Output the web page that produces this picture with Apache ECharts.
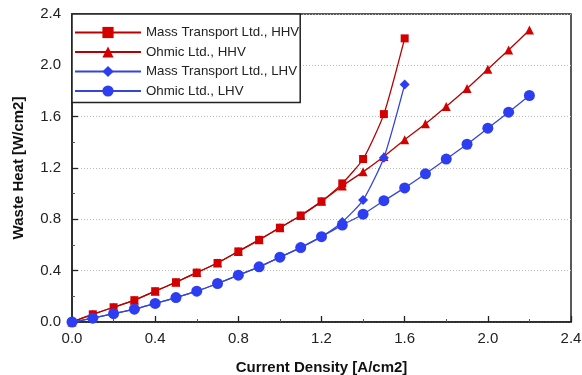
<!DOCTYPE html>
<html><head><meta charset="utf-8">
<script src="https://cdn.jsdelivr.net/npm/echarts@6/dist/echarts.min.js"></script>
<style>html,body{margin:0;padding:0;background:#fff}#c{width:582px;height:375px}</style>
</head><body><div id="c"></div>
<script>
const xMT = [0,0.1,0.2,0.3,0.4,0.5,0.6,0.7,0.8,0.9,1.0,1.1,1.2,1.3,1.4,1.5,1.6];
const xOh = [0,0.1,0.2,0.3,0.4,0.5,0.6,0.7,0.8,0.9,1.0,1.1,1.2,1.3,1.4,1.5,1.6,1.7,1.8,1.9,2.0,2.1,2.2];
const mtHHV = [0,0.06,0.115,0.17,0.24,0.31,0.385,0.46,0.55,0.64,0.735,0.83,0.94,1.08,1.27,1.62,2.21];
const ohHHV = [0,0.06,0.115,0.17,0.24,0.31,0.385,0.46,0.55,0.64,0.735,0.83,0.94,1.06,1.17,1.29,1.42,1.545,1.68,1.82,1.97,2.12,2.275];
const mtLHV = [0,0.03,0.065,0.10,0.145,0.19,0.24,0.30,0.365,0.43,0.505,0.58,0.665,0.78,0.95,1.28,1.85];
const ohLHV = [0,0.03,0.065,0.10,0.145,0.19,0.24,0.30,0.365,0.43,0.505,0.58,0.665,0.755,0.84,0.945,1.045,1.155,1.27,1.385,1.51,1.635,1.765];
const names = ['Mass Transport Ltd., HHV','Ohmic Ltd., HHV','Mass Transport Ltd., LHV','Ohmic Ltd., LHV'];
const pair = (xs, ys) => xs.map((x, i) => [x, ys[i]]);
const RED = '#d40000', BLUE = '#2d3ef2';
const font = '"Liberation Sans", Arial, sans-serif';
const chart = echarts.init(document.getElementById('c'));
const mk = (name, data, color, symbol, size, lineColor) => ({
  name, type: 'line', data, symbol, symbolSize: size, smooth: 0.2,
  itemStyle: {color}, lineStyle: {color: lineColor, width: 1.3}, z: 3
});
chart.setOption({
  animation: false,
  textStyle: {fontFamily: font},
  grid: {left: 72, right: 11, top: 14, bottom: 53, containLabel: false, outerBoundsMode: 'none',
         show: true, borderColor: '#222', borderWidth: 1.5, backgroundColor: 'transparent'},
  legend: {
    orient: 'vertical', left: 72, top: 14,
    backgroundColor: '#fff', borderColor: '#222', borderWidth: 1.5,
    padding: [12, 1, 5, 2], itemGap: 6.5, itemWidth: 66, itemHeight: 14,
    textStyle: {fontSize: 13.3, color: '#222', fontFamily: font},
    data: names
  },
  xAxis: {
    type: 'value', min: 0, max: 2.4, interval: 0.4,
    name: 'Current Density [A/cm2]', nameLocation: 'middle', nameGap: 38,
    nameTextStyle: {fontSize: 15, fontWeight: 'bold', color: '#111'},
    axisLine: {show: true, lineStyle: {color: '#222', width: 1.5}},
    axisTick: {show: true, inside: true, length: 6, lineStyle: {color: '#222', width: 1.3}},
    minorTick: {show: true, splitNumber: 2, length: 3, lineStyle: {color: '#555'}},
    axisLabel: {fontSize: 15, color: '#222', margin: 9, formatter: v => v.toFixed(1)},
    splitLine: {show: false}
  },
  yAxis: {
    type: 'value', min: 0, max: 2.4, interval: 0.4,
    name: 'Waste Heat [W/cm2]', nameLocation: 'middle', nameGap: 46,
    nameTextStyle: {fontSize: 15, fontWeight: 'bold', color: '#111'},
    axisLine: {show: true, lineStyle: {color: '#222', width: 1.5}},
    axisTick: {show: true, inside: true, length: 6, lineStyle: {color: '#222', width: 1.3}},
    minorTick: {show: true, splitNumber: 2, length: 3, lineStyle: {color: '#555'}},
    axisLabel: {fontSize: 15, color: '#222', margin: 11, formatter: v => v.toFixed(1)},
    splitLine: {show: true, lineStyle: {color: '#bbb', type: [1, 2], width: 1}}
  },
  series: [
    mk(names[0], pair(xMT, mtHHV), RED, 'rect', 8, '#b80000'),
    mk(names[1], pair(xOh, ohHHV), RED, 'triangle', 9, '#b80000'),
    mk(names[2], pair(xMT, mtLHV), BLUE, 'diamond', 10, '#3545d8'),
    mk(names[3], pair(xOh, ohLHV), BLUE, 'circle', 11, '#3545d8')
  ]
});
</script></body></html>
